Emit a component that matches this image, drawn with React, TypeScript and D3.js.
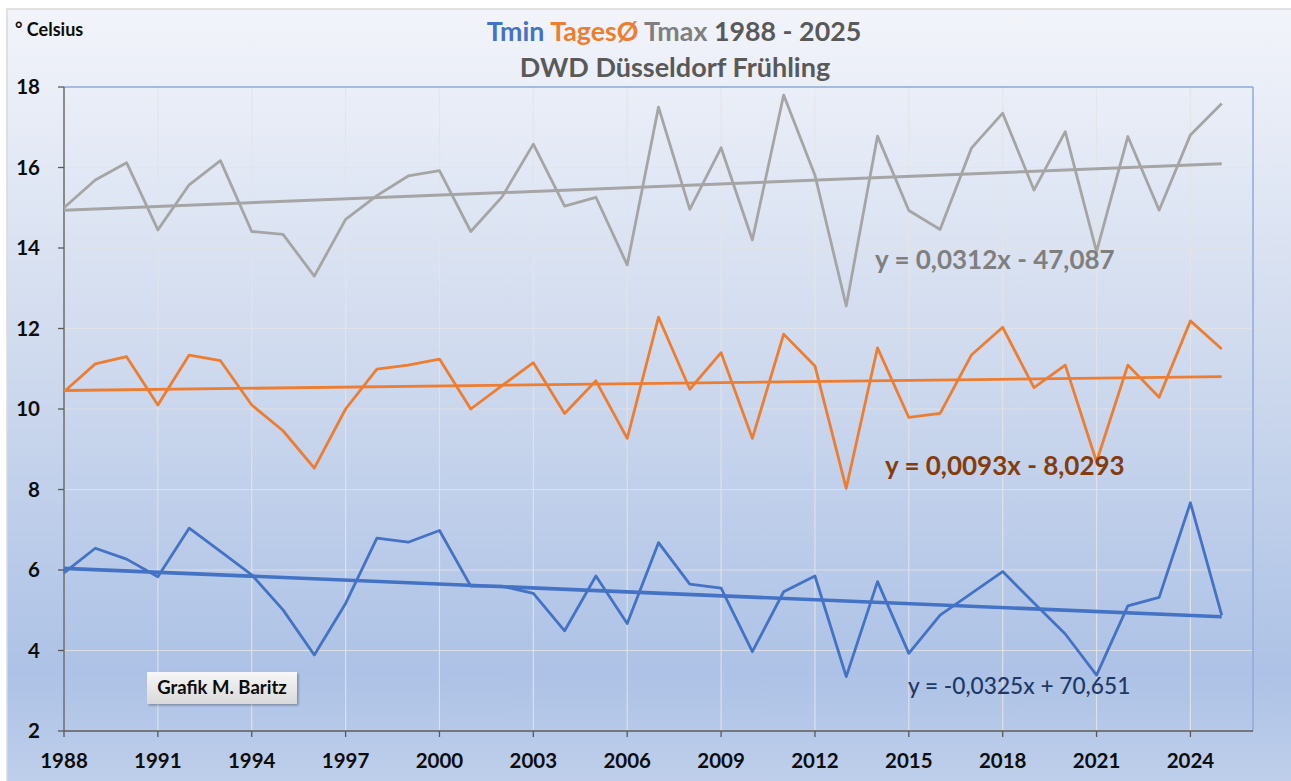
import React from "react";
import * as d3 from "d3";

const years: number[] = [
  1988, 1989, 1990, 1991, 1992, 1993, 1994, 1995, 1996, 1997, 1998, 1999, 2000,
  2001, 2002, 2003, 2004, 2005, 2006, 2007, 2008, 2009, 2010, 2011, 2012, 2013,
  2014, 2015, 2016, 2017, 2018, 2019, 2020, 2021, 2022, 2023, 2024, 2025,
];

const tmax: number[] = [
  15.0, 15.69, 16.12, 14.45, 15.57, 16.17, 14.41, 14.34, 13.3, 14.71, 15.3, 15.79, 15.92,
  14.41, 15.27, 16.58, 15.04, 15.26, 13.58, 17.5, 14.96, 16.49, 14.2, 17.8, 15.81, 12.56,
  16.78, 14.93, 14.46, 16.48, 17.35, 15.44, 16.89, 13.91, 16.77, 14.94, 16.81, 17.59,
];

const tmean: number[] = [
  10.43, 11.12, 11.3, 10.1, 11.34, 11.2, 10.1, 9.46, 8.53, 10.0, 10.99, 11.09, 11.24,
  10.0, 10.58, 11.15, 9.89, 10.7, 9.27, 12.28, 10.49, 11.4, 9.27, 11.86, 11.07, 8.03,
  11.52, 9.79, 9.89, 11.34, 12.03, 10.53, 11.09, 8.69, 11.09, 10.29, 12.19, 11.49,
];

const tmin: number[] = [
  5.93, 6.54, 6.27, 5.83, 7.04, 6.46, 5.88, 5.01, 3.89, 5.17, 6.79, 6.69, 6.98,
  5.6, 5.6, 5.42, 4.49, 5.85, 4.67, 6.68, 5.65, 5.55, 3.97, 5.46, 5.85, 3.35,
  5.71, 3.93, 4.88, 5.42, 5.96, 5.18, 4.41, 3.39, 5.11, 5.32, 7.67, 4.88,
];

const xTicks: number[] = [1988, 1991, 1994, 1997, 2000, 2003, 2006, 2009, 2012, 2015, 2018, 2021, 2024];
const yTicks: number[] = [2, 4, 6, 8, 10, 12, 14, 16, 18];

// trend line coefficients (slope, intercept) as shown in the chart
const trendMax = { a: 0.0312, b: -47.087, label: "y = 0,0312x - 47,087" };
const trendMean = { a: 0.0093, b: -8.0293, label: "y = 0,0093x - 8,0293" };
const trendMin = { a: -0.0325, b: 70.651, label: "y = -0,0325x + 70,651" };

const W = 1291;
const H = 781;
const FONT = "Lato, 'Open Sans', sans-serif";

export default function App() {
  const left = 64;
  const right = 1253;
  const top = 87;
  const bottom = 731;

  const x = d3.scaleLinear().domain([1988, 2026]).range([left, right]);
  const y = d3.scaleLinear().domain([2, 18]).range([bottom, top]);

  const line = d3
    .line<number>()
    .x((_, i) => x(years[i]))
    .y((d) => y(d));

  const trend = (t: { a: number; b: number }) => {
    const x0 = years[0];
    const x1 = years[years.length - 1];
    return `M${x(x0)},${y(t.a * x0 + t.b)}L${x(x1)},${y(t.a * x1 + t.b)}`;
  };

  const blue = "#4472C4";
  const orange = "#ED7D31";
  const gray = "#A5A5A5";

  return (
    <svg
      width={W}
      height={H}
      style={{ position: "absolute", left: 0, top: 0, display: "block" }}
      fontFamily={FONT}
    >
      <defs>
        <linearGradient id="bg" x1="0" y1="0" x2="0" y2="1">
          <stop offset="0" stopColor="#F2F4FA" />
          <stop offset="0.45" stopColor="#CFDAEE" />
          <stop offset="0.85" stopColor="#ADC2E6" />
          <stop offset="1" stopColor="#C0D0EB" />
        </linearGradient>
        <linearGradient id="box" x1="0" y1="0" x2="0" y2="1">
          <stop offset="0" stopColor="#F7F7F7" />
          <stop offset="1" stopColor="#D9D9D9" />
        </linearGradient>
        <filter id="sh" x="-10%" y="-20%" width="130%" height="160%">
          <feDropShadow dx="1.5" dy="1.5" stdDeviation="1.2" floodColor="#000" floodOpacity="0.3" />
        </filter>
      </defs>
      <rect x={0} y={0} width={W} height={H} fill="#FFFFFF" />
      <rect x={7} y={9} width={W} height={H} fill="url(#bg)" stroke="#D9D9D9" strokeWidth={1.5} />

      {/* grid */}
      {xTicks.map((t) => (
        <line key={"gx" + t} x1={x(t)} x2={x(t)} y1={top} y2={bottom} stroke="#E4E4E4" strokeOpacity={0.85} strokeWidth={1.2} />
      ))}
      {yTicks.map((t) => (
        <line key={"gy" + t} x1={left} x2={right} y1={y(t)} y2={y(t)} stroke="#E4E4E4" strokeOpacity={0.85} strokeWidth={1.2} />
      ))}

      {/* plot border top/right */}
      <line x1={left} x2={right} y1={top} y2={top} stroke="#8FAADC" strokeWidth={1.5} />
      <line x1={right} x2={right} y1={top} y2={bottom} stroke="#8FAADC" strokeWidth={1.5} />

      {/* axes */}
      <line x1={left} x2={left} y1={top} y2={bottom} stroke="#595959" strokeWidth={1.3} />
      <line x1={left} x2={right} y1={bottom} y2={bottom} stroke="#595959" strokeWidth={1.3} />
      {yTicks.map((t) => (
        <g key={"yt" + t}>
          <line x1={left - 6} x2={left} y1={y(t)} y2={y(t)} stroke="#595959" strokeWidth={1.3} />
          <text x={40} y={y(t)} dy="0.35em" textAnchor="end" fontSize={20.5} fontWeight={700} fill="#0D0D0D">
            {t}
          </text>
        </g>
      ))}
      {xTicks.map((t) => (
        <g key={"xt" + t}>
          <line x1={x(t)} x2={x(t)} y1={bottom} y2={bottom + 6} stroke="#595959" strokeWidth={1.3} />
          <text x={x(t)} y={761} dy="0.35em" textAnchor="middle" fontSize={20.5} fontWeight={700} fill="#0D0D0D">
            {t}
          </text>
        </g>
      ))}

      {/* data lines */}
      <path d={line(tmax) || ""} fill="none" stroke={gray} strokeWidth={2.8} strokeLinejoin="round" />
      <path d={trend(trendMax)} fill="none" stroke={gray} strokeWidth={3} />
      <path d={line(tmean) || ""} fill="none" stroke={orange} strokeWidth={2.8} strokeLinejoin="round" />
      <path d={trend(trendMean)} fill="none" stroke={orange} strokeWidth={2.8} />
      <path d={line(tmin) || ""} fill="none" stroke={blue} strokeWidth={2.8} strokeLinejoin="round" />
      <path d={trend(trendMin)} fill="none" stroke={blue} strokeWidth={3.6} />

      {/* equations */}
      <text x={875} y={260} dy="0.35em" fontSize={26} fontWeight={700} fill="#7F7F7F">
        {trendMax.label}
      </text>
      <text x={885} y={466} dy="0.35em" fontSize={26} fontWeight={700} fill="#843C0C">
        {trendMean.label}
      </text>
      <text x={908} y={686} dy="0.35em" fontSize={22.7} fontWeight={500} fill="#1F3864">
        {trendMin.label}
      </text>

      {/* titles */}
      <text x={674} y={32} dy="0.35em" textAnchor="middle" fontSize={26.8} fontWeight={700}>
        <tspan fill={blue}>Tmin </tspan>
        <tspan fill={orange}>TagesØ </tspan>
        <tspan fill="#7F7F7F">Tmax </tspan>
        <tspan fill="#595959">1988 - 2025</tspan>
      </text>
      <text x={675} y={68} dy="0.35em" textAnchor="middle" fontSize={27} fontWeight={700} fill="#595959">
        DWD Düsseldorf Frühling
      </text>
      <text x={15} y={30} dy="0.35em" fontSize={18} fontWeight={700} fill="#0D0D0D">
        ° Celsius
      </text>

      {/* credit box */}
      <rect x={147} y={672} width={150} height={32} fill="url(#box)" filter="url(#sh)" />
      <text x={222} y={688} dy="0.35em" textAnchor="middle" fontSize={18.5} fontWeight={700} fill="#0D0D0D">
        Grafik M. Baritz
      </text>
    </svg>
  );
}
